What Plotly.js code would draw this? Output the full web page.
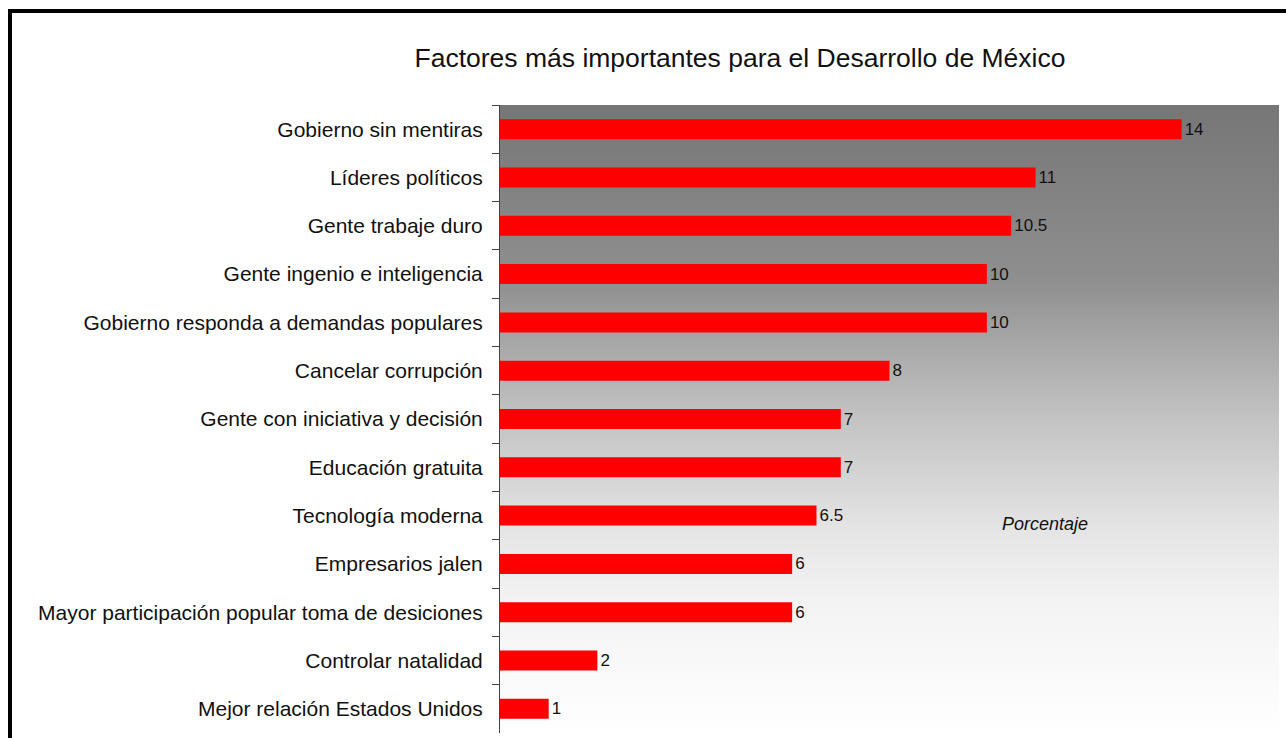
<!DOCTYPE html>
<html>
<head>
<meta charset="utf-8">
<script src="https://cdn.plot.ly/plotly-3.0.1.min.js"></script>
<style>
  html, body { margin: 0; padding: 0; background: #ffffff; }
  #chart { width: 1286px; height: 738px; }
</style>
</head>
<body>
<div id="chart"></div>
<script>
const categories = [
  "Gobierno sin mentiras",
  "Líderes políticos",
  "Gente trabaje duro",
  "Gente ingenio e inteligencia",
  "Gobierno responda a demandas populares",
  "Cancelar corrupción",
  "Gente con iniciativa y decisión",
  "Educación gratuita",
  "Tecnología moderna",
  "Empresarios jalen",
  "Mayor participación popular toma de desiciones",
  "Controlar natalidad",
  "Mejor relación Estados Unidos"
];
const values = [14, 11, 10.5, 10, 10, 8, 7, 7, 6.5, 6, 6, 2, 1];
const chartTitle = "Factores más importantes para el Desarrollo de México";
const axisNote = "Porcentaje";

const W = 1286, H = 738;
const L = 500, R = 7, T = 105, B = 5;
const pw = W - L - R, ph = H - T - B;
const px = x => (x - L) / pw;
const py = y => (H - B - y) / ph;
const FONT = 'Liberation Sans, Arial, sans-serif';

const gradSvg =
  '<svg xmlns="http://www.w3.org/2000/svg" width="100" height="100" preserveAspectRatio="none" viewBox="0 0 100 100">' +
  '<defs><linearGradient id="g" x1="0" y1="0" x2="0" y2="1">' +
  '<stop offset="0" stop-color="#767676"/>' +
  '<stop offset="0.28" stop-color="#8f8f8f"/>' +
  '<stop offset="0.37" stop-color="#a5a5a5"/>' +
  '<stop offset="0.50" stop-color="#c3c3c3"/>' +
  '<stop offset="0.60" stop-color="#d6d6d6"/>' +
  '<stop offset="0.67" stop-color="#e4e4e4"/>' +
  '<stop offset="0.79" stop-color="#f3f3f3"/>' +
  '<stop offset="1" stop-color="#ffffff"/>' +
  '</linearGradient></defs><rect x="0" y="0" width="100" height="100" fill="url(#g)"/></svg>';
const gradUri = 'data:image/svg+xml;charset=utf-8,' + encodeURIComponent(gradSvg);

const trace = {
  type: 'bar',
  orientation: 'h',
  x: values,
  y: categories,
  marker: { color: '#ff0000', line: { width: 0 } },
  text: values.map(v => String(v)),
  textposition: 'outside',
  cliponaxis: false,
  textfont: { family: FONT, size: 17, color: '#111111' },
  hoverinfo: 'x+y'
};

const layout = {
  width: W,
  height: H,
  margin: { l: L, r: R, t: T, b: B, pad: 0 },
  paper_bgcolor: '#ffffff',
  plot_bgcolor: 'rgba(0,0,0,0)',
  bargap: 0.586,
  showlegend: false,
  font: { family: FONT, color: '#111111' },
  title: {
    text: chartTitle,
    font: { family: FONT, size: 26.5, color: '#111111' },
    x: 740 / W,
    xanchor: 'center',
    y: 1 - 58 / H,
    yanchor: 'middle'
  },
  xaxis: {
    range: [0, 16],
    showgrid: false,
    zeroline: false,
    showline: false,
    showticklabels: false,
    ticks: ''
  },
  yaxis: {
    type: 'category',
    categoryorder: 'array',
    categoryarray: categories,
    autorange: 'reversed',
    showgrid: false,
    zeroline: false,
    showline: true,
    linecolor: '#444444',
    linewidth: 1,
    ticks: 'outside',
    tickson: 'boundaries',
    ticklen: 7,
    tickcolor: '#444444',
    tickwidth: 1,
    ticklabelstandoff: 12,
    tickfont: { family: FONT, size: 21, color: '#111111' }
  },
  images: [{
    source: gradUri,
    xref: 'paper', yref: 'paper',
    x: 0, y: 1, sizex: 1, sizey: 1,
    xanchor: 'left', yanchor: 'top',
    sizing: 'stretch',
    layer: 'below'
  }],
  annotations: [{
    text: axisNote,
    xref: 'paper', yref: 'paper',
    x: px(1045), y: py(524),
    xanchor: 'center', yanchor: 'middle',
    showarrow: false,
    font: { family: FONT, size: 18, color: '#111111', style: 'italic' }
  }],
  shapes: [
    { type: 'line', xref: 'paper', yref: 'paper', x0: px(10), x1: px(10), y0: py(9), y1: py(740), line: { color: '#000000', width: 4 } },
    { type: 'line', xref: 'paper', yref: 'paper', x0: px(8), x1: px(1290), y0: py(11), y1: py(11), line: { color: '#000000', width: 4 } }
  ]
};

Plotly.newPlot('chart', [trace], layout, { displayModeBar: false, staticPlot: true });
</script>
</body>
</html>
